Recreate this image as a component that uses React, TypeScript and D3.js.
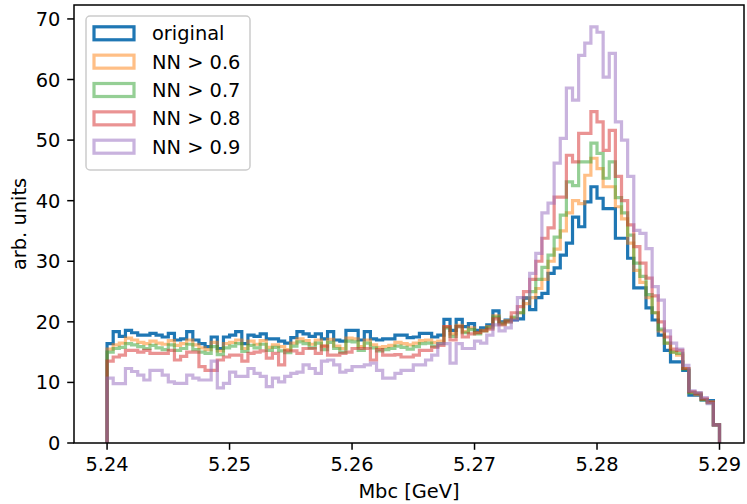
import * as d3 from "d3";

// histogram setup: 100 bins between 5.24 and 5.29 GeV
const binLo = 5.24;
const binHi = 5.29;
const nBins = 100;

const original = [
  16.4, 18.4, 17.6, 18.6, 18.2, 17.8, 17.8, 18.1, 17.8, 17.5,
  18.1, 17.0, 17.2, 18.4, 17.0, 16.4, 15.9, 17.5, 15.6, 17.5,
  17.8, 18.4, 16.4, 17.8, 17.6, 18.0, 17.2, 17.2, 16.8, 16.5,
  17.4, 18.4, 18.0, 17.6, 18.0, 17.2, 18.4, 17.0, 16.8, 18.6,
  18.6, 17.0, 18.4, 17.2, 17.0, 17.2, 17.2, 17.8, 17.8, 17.4,
  17.5, 18.1, 18.1, 17.5, 17.8, 20.4, 18.6, 20.4, 19.2, 19.7,
  18.6, 19.0, 19.5, 21.8, 20.0, 20.3, 20.3, 20.5, 23.9, 22.0,
  24.0, 24.7, 28.0, 28.9, 31.0, 33.0, 37.3, 35.7, 39.8, 42.3,
  40.4, 38.7, 38.7, 33.8, 33.8, 30.5, 25.6, 25.6, 22.3, 20.3,
  17.8, 15.3, 13.4, 13.4, 12.0, 7.9, 7.9, 7.1, 7.0, 3.0,
];

const nn06 = [
  15.5, 16.2, 16.5, 17.3, 17.0, 16.6, 16.4, 16.8, 16.5, 16.3,
  16.9, 16.1, 16.4, 17.0, 16.2, 15.7, 15.4, 16.6, 15.2, 16.4,
  16.6, 17.0, 15.6, 16.8, 16.3, 16.9, 15.8, 16.2, 15.9, 15.4,
  16.5, 17.2, 16.9, 16.3, 17.0, 16.0, 17.1, 16.0, 15.6, 17.3,
  17.2, 15.9, 17.0, 16.2, 15.8, 15.9, 16.1, 16.6, 16.4, 16.2,
  16.5, 16.9, 17.0, 16.6, 16.8, 19.2, 18.0, 19.4, 18.4, 19.0,
  18.2, 18.6, 19.2, 21.0, 19.8, 20.2, 20.6, 21.5, 23.0, 24.0,
  25.5, 27.0, 30.0, 32.0, 35.0, 38.0, 40.0, 39.5, 44.2, 47.0,
  45.3, 42.3, 42.3, 39.0, 37.0, 33.0, 28.5, 26.5, 24.0, 21.5,
  18.5, 16.5, 15.0, 14.5, 12.3, 8.3, 8.0, 7.2, 6.8, 3.0,
];

const nn07 = [
  15.0, 15.6, 15.8, 16.4, 16.2, 15.9, 15.6, 16.1, 15.7, 15.4,
  16.2, 15.3, 15.6, 16.3, 15.4, 15.0, 14.8, 15.9, 14.6, 15.7,
  16.0, 16.4, 15.1, 16.1, 15.7, 16.3, 15.3, 15.8, 15.2, 14.9,
  16.0, 16.7, 16.4, 15.7, 16.5, 15.4, 16.6, 15.6, 15.0, 16.8,
  16.7, 15.3, 16.5, 15.7, 15.2, 15.4, 15.6, 16.0, 15.8, 15.5,
  15.9, 16.4, 16.5, 16.0, 16.4, 19.0, 17.6, 19.2, 18.2, 18.7,
  18.0, 18.5, 19.0, 20.8, 19.6, 20.0, 20.8, 21.5, 24.0, 25.0,
  27.0, 29.0, 31.0, 34.0, 37.6, 43.1, 42.5, 46.4, 46.4, 49.5,
  47.8, 43.7, 46.4, 40.5, 38.0, 34.3, 29.7, 27.5, 24.5, 21.5,
  18.8, 16.5, 15.0, 14.8, 12.2, 8.3, 8.2, 7.1, 6.6, 3.0,
];

const nn08 = [
  13.5, 14.2, 14.5, 15.3, 15.3, 15.0, 15.3, 14.8, 14.8, 14.8,
  15.3, 13.7, 14.3, 15.0, 15.0, 12.6, 12.0, 12.0, 13.7, 14.2,
  14.5, 14.5, 13.5, 14.8, 15.0, 15.2, 14.0, 14.8, 12.9, 15.2,
  15.2, 14.8, 15.6, 15.6, 14.8, 16.0, 14.5, 14.5, 14.8, 15.0,
  15.6, 15.6, 15.6, 13.7, 15.4, 14.5, 14.5, 14.6, 14.2, 14.2,
  14.5, 15.3, 15.3, 15.8, 16.1, 19.2, 17.0, 19.2, 17.5, 18.0,
  18.2, 18.5, 18.8, 20.5, 19.5, 20.0, 21.5, 22.5, 25.0, 27.0,
  30.0, 33.8, 35.5, 40.6, 40.6, 47.5, 46.4, 51.1, 51.1, 54.7,
  53.0, 48.3, 51.6, 44.0, 40.0, 36.0, 32.4, 29.7, 27.2, 24.3,
  20.0, 17.5, 15.5, 15.3, 12.3, 8.5, 8.2, 7.3, 6.7, 3.0,
];

const nn09 = [
  10.7, 9.8, 9.8, 12.3, 11.8, 11.2, 10.4, 12.0, 12.0, 11.2,
  10.1, 9.85, 9.85, 11.2, 10.7, 10.4, 10.4, 13.5, 9.1, 9.85,
  11.7, 11.0, 11.0, 12.3, 11.5, 11.0, 9.3, 10.7, 10.1, 11.0,
  11.5, 11.7, 12.9, 12.3, 11.5, 13.5, 13.7, 12.9, 11.7, 12.0,
  12.6, 12.6, 12.9, 13.2, 12.0, 10.7, 10.7, 11.5, 12.0, 12.0,
  12.9, 12.9, 13.7, 14.5, 16.4, 16.4, 13.2, 16.4, 15.6, 15.6,
  16.8, 16.5, 17.8, 19.5, 18.5, 19.0, 20.3, 24.0, 24.0, 28.0,
  31.3, 38.0, 39.6, 46.2, 50.3, 58.6, 56.6, 64.0, 66.0, 68.7,
  67.8, 60.4, 64.3, 53.0, 50.0, 44.0, 35.1, 34.6, 32.1, 25.8,
  23.6, 18.5, 16.5, 15.5, 12.8, 8.6, 8.3, 7.5, 6.5, 3.0,
];

const seriesNames = ["original", "NN > 0.6", "NN > 0.7", "NN > 0.8", "NN > 0.9"];
const seriesColors = ["#1f77b4", "#ff7f0e", "#2ca02c", "#d62728", "#9467bd"];
const seriesAlpha = [1, 0.5, 0.5, 0.5, 0.5];
const seriesValues = [original, nn06, nn07, nn08, nn09];

const xTicks = [5.24, 5.25, 5.26, 5.27, 5.28, 5.29];
const yTicks = [0, 10, 20, 30, 40, 50, 60, 70];

const W = 747, H = 504;
const font = "DejaVu Sans, Liberation Sans, sans-serif";
const fs = 19.4;

const x = d3.scaleLinear().domain([5.2373, 5.292]).range([74, 744]);
const y = d3.scaleLinear().domain([0, 72.3]).range([443, 5]);

const edges = d3.range(nBins + 1).map(i => binLo + (i * (binHi - binLo)) / nBins);

function stepPath(vals: number[]) {
  const pts: [number, number][] = [[edges[0], 0]];
  vals.forEach((v, i) => {
    pts.push([edges[i], v]);
    pts.push([edges[i + 1], v]);
  });
  pts.push([edges[nBins], 0]);
  return d3.line<[number, number]>()
    .x(d => x(d[0]))
    .y(d => y(d[1]))(pts) || "";
}

export default function App() {
  const [x0, x1] = x.range();
  const [yb, yt] = y.range();
  const tickLen = 6.8;
  const lw = 3.2;

  return (
    <svg width={W} height={H} style={{ position: "absolute", left: 0, top: 0, background: "white" }}
      fontFamily={font}>
      {/* histograms */}
      {seriesValues.map((vals, i) => (
        <path key={i} d={stepPath(vals)} fill="none" stroke={seriesColors[i]}
          strokeOpacity={seriesAlpha[i]} strokeWidth={lw} strokeLinejoin="miter" />
      ))}

      {/* spines */}
      <rect x={x0} y={yt} width={x1 - x0} height={yb - yt} fill="none" stroke="#000" strokeWidth={1.5} />

      {/* x axis */}
      {xTicks.map(t => (
        <g key={t}>
          <line x1={x(t)} x2={x(t)} y1={yb} y2={yb + tickLen} stroke="#000" strokeWidth={1.5} />
          <text x={x(t)} y={yb + 28} fontSize={fs} textAnchor="middle" fill="#000">{t.toFixed(2)}</text>
        </g>
      ))}
      <text x={(x0 + x1) / 2} y={498} fontSize={fs} textAnchor="middle" fill="#000">Mbc [GeV]</text>

      {/* y axis */}
      {yTicks.map(t => (
        <g key={t}>
          <line x1={x0} x2={x0 - tickLen} y1={y(t)} y2={y(t)} stroke="#000" strokeWidth={1.5} />
          <text x={x0 - 2 * tickLen} y={y(t) + 7} fontSize={fs} textAnchor="end" fill="#000">{t}</text>
        </g>
      ))}
      <text transform={`translate(26,${(yb + yt) / 2}) rotate(-90)`} fontSize={fs} textAnchor="middle" fill="#000">
        arb. units
      </text>

      {/* legend */}
      <rect x={86} y={16} width={164} height={154} rx={4} fill="white" fillOpacity={0.8}
        stroke="#cccccc" strokeWidth={1.5} />
      {seriesNames.map((name, i) => {
        const cy = 33.3 + i * 28.35;
        return (
          <g key={name}>
            <rect x={94} y={cy - 6.5} width={40} height={13} fill="none" stroke={seriesColors[i]}
              strokeOpacity={seriesAlpha[i]} strokeWidth={lw} />
            <text x={152} y={cy + 7} fontSize={fs} fill="#000">{name}</text>
          </g>
        );
      })}
    </svg>
  );
}
